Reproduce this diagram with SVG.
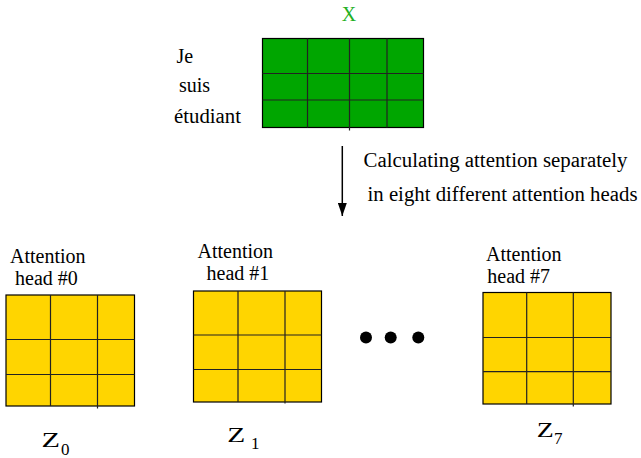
<svg xmlns="http://www.w3.org/2000/svg" width="641" height="458" viewBox="0 0 641 458">
<defs>
<style>
text{font-family:"Times New Roman","Liberation Serif",Times,"Nimbus Roman","Nimbus Roman No9 L",Tinos,FreeSerif,"Noto Serif","DejaVu Serif",serif;font-size:20px;fill:#000}
.box{stroke:#000;stroke-width:1.2}
.grid{stroke:#222;stroke-width:1.2;fill:none}
.green{fill:#00a600}
.yellow{fill:#ffd500}
.conn{stroke:#000;stroke-width:1.5;fill:none}
</style>
<marker id="ah" refX="13" refY="4.5" markerWidth="13" markerHeight="9" markerUnits="userSpaceOnUse" orient="auto">
<path d="M0,0 L13,4.5 L0,9 Z" fill="#000"/>
</marker>
</defs>
<rect width="641" height="458" fill="#fff"/>

<g id="input-x">
<text x="349" y="21" text-anchor="middle" style="fill:#22b022">X</text>
<rect class="box green" x="262.5" y="38.5" width="161" height="89"/>
<path class="grid" d="M307.5,38.5V127.5M349.5,38.5V130.5M387,38.5V127.5M262.5,73.5H423.5M262.5,100H423.5"/>
<text x="176.5" y="63">Je</text>
<text x="179" y="92">suis</text>
<text x="174" y="123" textLength="67" lengthAdjust="spacingAndGlyphs">étudiant</text>
</g>

<g id="connectors">
<line class="conn" x1="342.3" y1="146" x2="342.3" y2="216" marker-end="url(#ah)"/>
<text x="363.5" y="167" textLength="264" lengthAdjust="spacingAndGlyphs">Calculating attention separately</text>
<text x="367.5" y="201" textLength="270" lengthAdjust="spacingAndGlyphs">in eight different attention heads</text>
</g>

<g id="head0">
<text x="10" y="263">Attention</text>
<text x="15" y="285">head #0</text>
<rect class="box yellow" x="6" y="295" width="128.5" height="111"/>
<path class="grid" d="M50.5,295V406M97.5,295V408.5M6,339.5H134.5M6,374.5H134.5"/>
<text x="41.5" y="447" textLength="18.5" lengthAdjust="spacingAndGlyphs" style="font-size:21px">Z</text>
<text x="61" y="454.5" style="font-size:17px">0</text>
</g>

<g id="head1">
<text x="197.5" y="257.5">Attention</text>
<text x="206.5" y="280">head #1</text>
<rect class="box yellow" x="193.5" y="291" width="128" height="111"/>
<path class="grid" d="M238,291V402M285,291V403.5M193.5,335H321.5M193.5,369.5H321.5"/>
<text x="227.3" y="442" textLength="18" lengthAdjust="spacingAndGlyphs" style="font-size:21px">Z</text>
<text x="251" y="448.5" style="font-size:17px">1</text>
</g>

<g id="ellipsis">
<circle cx="366" cy="337.5" r="6"/>
<circle cx="390.7" cy="337.5" r="6"/>
<circle cx="418.3" cy="337.5" r="6"/>
</g>

<g id="head7">
<text x="486" y="260.5">Attention</text>
<text x="487.3" y="283">head #7</text>
<rect class="box yellow" x="483" y="292.5" width="128" height="111.5"/>
<path class="grid" d="M526.7,292.5V404M573.3,292.5V406.5M483,337.5H611M483,371.7H611"/>
<text x="536.7" y="437" textLength="17" lengthAdjust="spacingAndGlyphs" style="font-size:21px">Z</text>
<text x="554" y="443.5" style="font-size:17px">7</text>
</g>
</svg>
